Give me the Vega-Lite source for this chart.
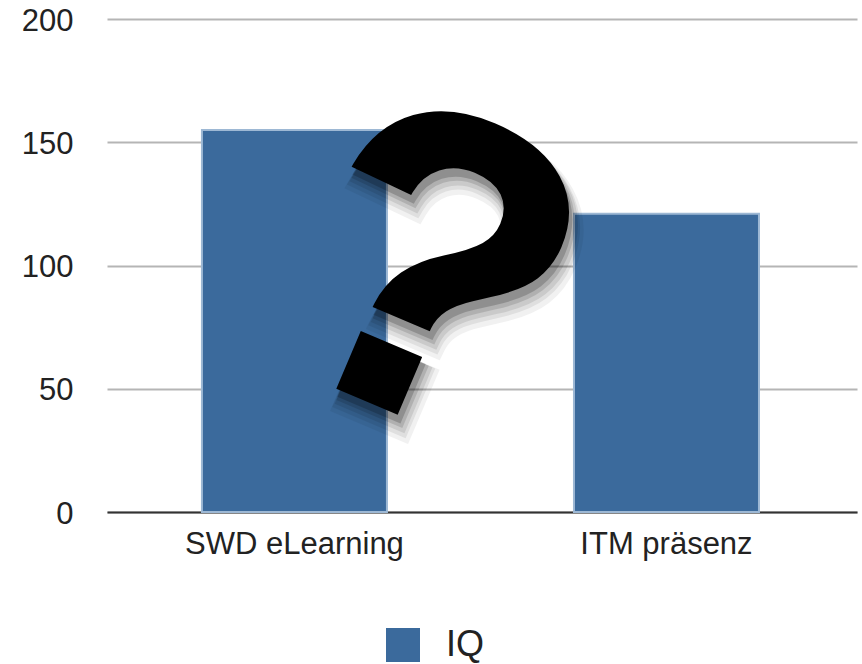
{"$schema":"https://vega.github.io/schema/vega-lite/v6.json","width":750,"height":493,"autosize":{"type":"none"},"padding":{"left":107,"top":19,"right":5,"bottom":152},"background":"white","config":{"view":{"stroke":null},"font":"Liberation Sans"},"datasets":{"bars":[{"cat":"SWD eLearning","series":"IQ","value":155},{"cat":"ITM präsenz","series":"IQ","value":121}],"mark":[{"cat":"SWD eLearning","y":100,"t":"?"}]},"encoding":{"x":{"field":"cat","type":"nominal","scale":{"domain":["SWD eLearning","ITM präsenz"],"paddingInner":0.5,"paddingOuter":0.258,"align":0.492},"axis":{"title":null,"labelAngle":0,"labelFontSize":31,"labelLimit":400,"labelColor":"#222","labelPadding":17,"ticks":false,"domainColor":"#333","domainWidth":2,"grid":false}}},"layer":[{"data":{"name":"bars"},"mark":{"type":"bar","size":185,"stroke":"#9db8d4","strokeWidth":2},"encoding":{"y":{"field":"value","type":"quantitative","scale":{"domain":[0,200]},"axis":{"title":null,"values":[0,50,100,150,200],"labelFontSize":31,"labelColor":"#222","labelPadding":34,"labelOffset":2,"ticks":false,"domain":false,"grid":true,"gridColor":"#b5b5b5","gridWidth":2}},"color":{"field":"series","type":"nominal","scale":{"range":["#3b6a9c"]},"legend":{"title":null,"orient":"none","legendX":278,"legendY":608,"symbolType":"square","symbolSize":1156,"symbolStrokeWidth":0,"symbolOpacity":1,"labelFontSize":36,"labelColor":"#222","labelOffset":25}}}},{"data":{"name":"mark"},"mark":{"type":"text","text":"?","font":"Liberation Sans","fontWeight":"bold","fontSize":430,"angle":23,"dx":141,"dy":-21,"color":"#000","stroke":"#000","strokeWidth":24,"opacity":0.05},"encoding":{"y":{"field":"y","type":"quantitative"}}},{"data":{"name":"mark"},"mark":{"type":"text","text":"?","font":"Liberation Sans","fontWeight":"bold","fontSize":430,"angle":23,"dx":139,"dy":-23,"color":"#000","stroke":"#000","strokeWidth":19,"opacity":0.07},"encoding":{"y":{"field":"y","type":"quantitative"}}},{"data":{"name":"mark"},"mark":{"type":"text","text":"?","font":"Liberation Sans","fontWeight":"bold","fontSize":430,"angle":23,"dx":138,"dy":-25,"color":"#000","stroke":"#000","strokeWidth":15,"opacity":0.09},"encoding":{"y":{"field":"y","type":"quantitative"}}},{"data":{"name":"mark"},"mark":{"type":"text","text":"?","font":"Liberation Sans","fontWeight":"bold","fontSize":430,"angle":23,"dx":136,"dy":-27,"color":"#000","stroke":"#000","strokeWidth":11,"opacity":0.12},"encoding":{"y":{"field":"y","type":"quantitative"}}},{"data":{"name":"mark"},"mark":{"type":"text","text":"?","font":"Liberation Sans","fontWeight":"bold","fontSize":430,"angle":23,"dx":134,"dy":-29,"color":"#000","stroke":"#000","strokeWidth":8,"opacity":0.18},"encoding":{"y":{"field":"y","type":"quantitative"}}},{"data":{"name":"mark"},"mark":{"type":"text","text":"?","font":"Liberation Sans","fontWeight":"bold","fontSize":430,"angle":23,"dx":129,"dy":-35,"color":"#000","stroke":"#000","strokeWidth":6},"encoding":{"y":{"field":"y","type":"quantitative"}}}]}
